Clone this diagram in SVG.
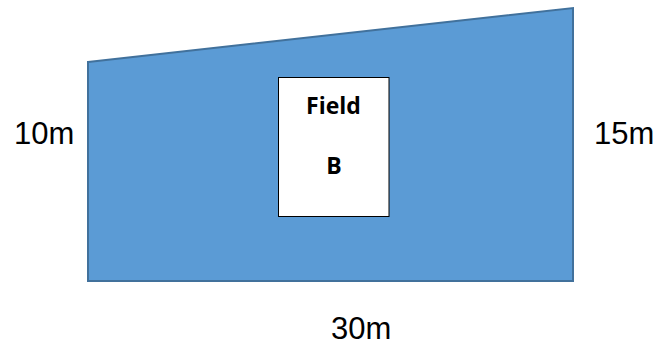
<svg xmlns="http://www.w3.org/2000/svg" width="661" height="347" viewBox="0 0 661 347">
<style>
.lbl{font-family:"Liberation Sans",Arial,sans-serif;font-size:31px;fill:#000}
.fld{font-family:"Open Sans","Liberation Sans",sans-serif;font-weight:bold;font-size:23px;fill:#000;text-anchor:middle}
</style>
<rect width="661" height="347" fill="#fff"/>
<g id="plot">
<path d="M88 62 L573 8 L573 281 L88 281 Z" fill="#5B9BD5" stroke="#41719C" stroke-width="2" stroke-linejoin="miter"/>
</g>
<g id="fieldB">
<rect x="278.5" y="77.5" width="110.5" height="139" fill="#fff" stroke="#000" stroke-width="1"/>
<text class="fld" x="333.5" y="114">Field</text>
<text class="fld" x="334" y="174">B</text>
</g>
<g id="labels">
<text class="lbl" x="14" y="144">10m</text>
<text class="lbl" x="594" y="144">15m</text>
<text class="lbl" x="331" y="339">30m</text>
</g>
</svg>
